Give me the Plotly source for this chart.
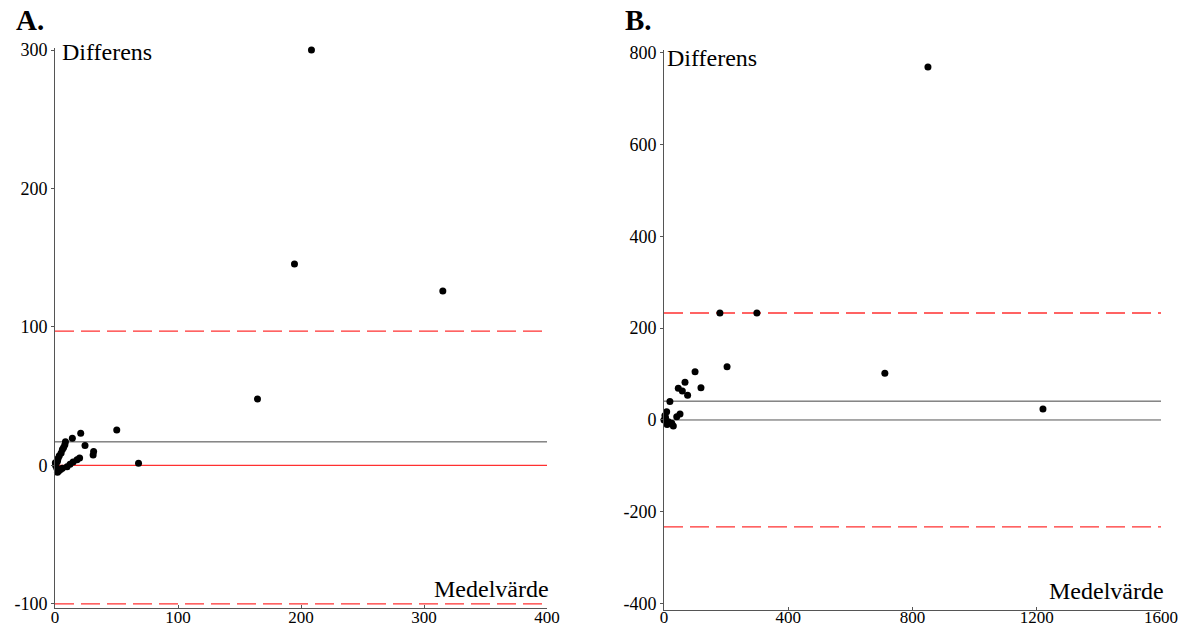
import plotly.graph_objects as go

W, H = 1190, 627

# Panel A data (Medelvärde, Differens)
a_mean = [208.5, 194.7, 315.3, 164.6, 50.2, 67.9, 20.9, 14.1, 24.4, 31.4, 31.0, 20.0, 17.9,
          14.7, 12.2, 9.8, 8.0, 7.0, 6.0, 8.5, 5.0, 3.5, 2.5, 2.0, 1.0, 0.5, 1.5, 3.0, 4.5,
          6.0, 0.3, 2.0]
a_diff = [300, 145.5, 126, 48, 25.6, 1.6, 23.2, 19.6, 14.3, 10, 7.5, 5.4, 4.0,
          2.5, 0.8, -1.0, 15, 13, 11.5, 17, 9, 7, 5, 3, 1.5, 0, -2, -4, -3,
          -2, 2, -5]
a_bias = 17
a_upper = 97
a_lower = -100

# Panel B data
b_mean = [849.7, 180, 299, 203, 711, 1220, 100, 67.6, 119, 46, 59, 76, 19, 8.6, 51.5, 41,
          30, 5, 0, 14, 25, 3, 10]
b_diff = [769, 233, 233, 116, 102, 24, 105, 82, 70, 69, 63, 54, 40, 18, 13, 7,
          -13, 5, 0, -4, -7, 10, -10]
b_bias = 41
b_upper = 233
b_lower = -233

a_xticks = [0, 100, 200, 300, 400]
a_yticks = [-100, 0, 100, 200, 300]
b_xticks = [0, 400, 800, 1200, 1600]
b_yticks = [-400, -200, 0, 200, 400, 600, 800]

FONT = "Liberation Serif"
RED = "#ff3030"
DASH = "19px,7px"

fig = go.Figure()
fig.add_trace(go.Scatter(x=a_mean, y=a_diff, mode="markers", xaxis="x", yaxis="y",
                         marker=dict(color="black", size=7), cliponaxis=False,
                         showlegend=False))
fig.add_trace(go.Scatter(x=b_mean, y=b_diff, mode="markers", xaxis="x2", yaxis="y2",
                         marker=dict(color="black", size=7), cliponaxis=False,
                         showlegend=False))

def hline(xr, yr, x1, y, color, dash=None, width=1):
    fig.add_shape(type="line", xref=xr, yref=yr, x0=0, x1=x1, y0=y, y1=y,
                  line=dict(color=color, width=width, dash=dash), layer="below")

hline("x", "y", 400, a_bias, "#444444")
hline("x", "y", 400, 0, RED, None, 1.4)
hline("x", "y", 400, a_upper, RED, DASH, 1.4)
hline("x", "y", 400, a_lower, RED, DASH, 1.4)
hline("x2", "y2", 1600, b_bias, "#444444")
hline("x2", "y2", 1600, 0, "#555555")
hline("x2", "y2", 1600, b_upper, RED, DASH, 1.4)
hline("x2", "y2", 1600, b_lower, RED, DASH, 1.4)

def fmt(v):
    return f"-{abs(v)}" if v < 0 else str(v)

axis_common = dict(showgrid=False, zeroline=False, showline=True, linecolor="#555555",
                   linewidth=1, ticklen=3, tickcolor="#555555", automargin=False)
yfont = dict(family=FONT, size=18, color="black")
xfont = dict(family=FONT, size=17, color="black")

fig.update_layout(
    width=W, height=H, margin=dict(l=0, r=0, t=0, b=0),
    paper_bgcolor="white", plot_bgcolor="white",
    xaxis=dict(domain=[55 / W, 547 / W], range=[0, 400], tickvals=a_xticks,
               ticktext=[fmt(v) for v in a_xticks], ticks="inside", tickfont=xfont,
               ticklabelstandoff=-6, anchor="y", **axis_common),
    yaxis=dict(domain=[1 - 608 / H, 1 - 48 / H], range=[-103, 301.5], tickvals=a_yticks,
               ticktext=[fmt(v) for v in a_yticks], ticks="outside", tickfont=yfont,
               anchor="x", **axis_common),
    xaxis2=dict(domain=[664 / W, 1161 / W], range=[0, 1600], tickvals=b_xticks,
                ticktext=[fmt(v) for v in b_xticks], ticks="inside", tickfont=xfont,
                ticklabelstandoff=-8, anchor="y2", **axis_common),
    yaxis2=dict(domain=[1 - 610 / H, 1 - 50 / H], range=[-414, 806], tickvals=b_yticks,
                ticktext=[fmt(v) for v in b_yticks], ticks="outside", tickfont=yfont,
                anchor="x2", **axis_common),
)

def txt(x, y, s, size):
    fig.add_annotation(x=x / W, y=1 - y / H, xref="paper", yref="paper", text=s,
                       showarrow=False, xanchor="left", yanchor="middle",
                       font=dict(family=FONT, size=size, color="black"))

txt(14, 20, "<b>A.</b>", 29)
txt(623, 20, "<b>B.</b>", 29)
txt(60, 52, "Differens", 24)
txt(665, 58, "Differens", 24)
txt(432, 589, "Medelvärde", 24)
txt(1047, 591, "Medelvärde", 24)

fig.write_html("out.html")
